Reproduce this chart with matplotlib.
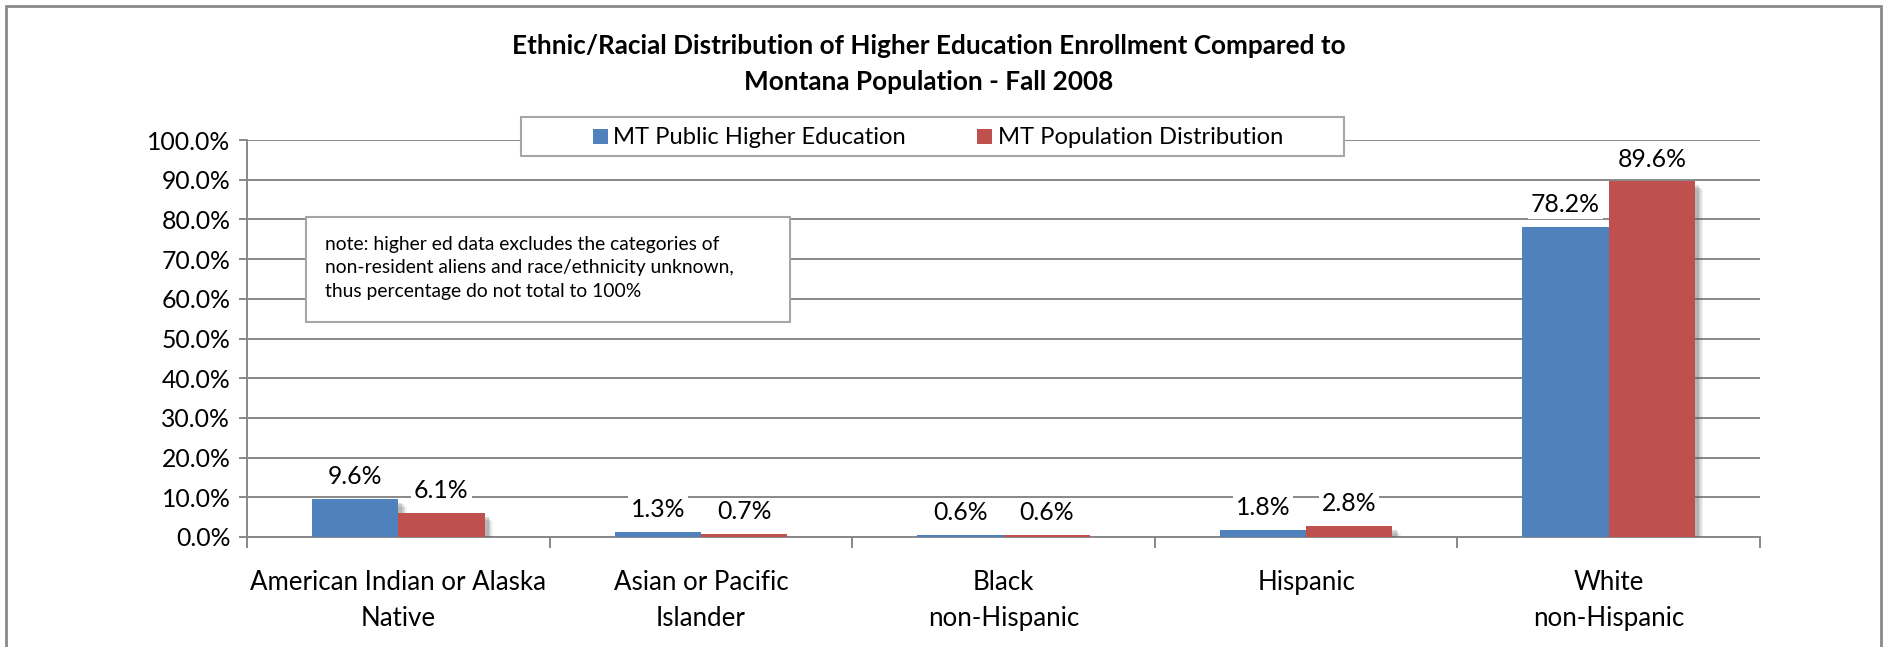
import matplotlib
matplotlib.use("Agg")
import matplotlib.pyplot as plt
import matplotlib.patheffects as pe
from matplotlib.patches import Rectangle, Patch
import numpy as np

categories = ["American Indian or Alaska\nNative", "Asian or Pacific\nIslander",
              "Black\nnon-Hispanic", "Hispanic", "White\nnon-Hispanic"]
higher_ed = [9.6, 1.3, 0.6, 1.8, 78.2]
population = [6.1, 0.7, 0.6, 2.8, 89.6]
series_names = ["MT Public Higher Education", "MT Population Distribution"]
yticks = [0, 10, 20, 30, 40, 50, 60, 70, 80, 90, 100]
title_lines = ["Ethnic/Racial Distribution of Higher Education Enrollment Compared to",
               "Montana Population - Fall 2008"]
note = ("note: higher ed data excludes the categories of\n"
        "non-resident aliens and race/ethnicity unknown,\n"
        "thus percentage do not total to 100%")

BLUE = "#4F81BD"
RED = "#C0504D"
GRID = "#888888"
FONT = ["Lato", "DejaVu Sans"]
plt.rcParams["font.family"] = FONT

W, H = 1887, 647
fig = plt.figure(figsize=(W / 100, H / 100), dpi=100)

def fx(px):
    return px / W

def fy(py):
    return 1 - py / H

# outer border
fig.patches.append(Rectangle((fx(6), fy(660)), fx(1881) - fx(6), fy(6) - fy(660),
                             transform=fig.transFigure, fill=False,
                             edgecolor="#8a8a8a", lw=2))

ax = fig.add_axes([fx(247), fy(537), fx(1760) - fx(247), fy(140) - fy(537)])
x = np.arange(len(categories))
bw = 0.285
shadow = [pe.SimplePatchShadow(offset=(o, -o), shadow_rgbFace="#606060", alpha=a)
          for o, a in ((6, 0.08), (5, 0.12), (4, 0.16), (3, 0.2))] + [pe.Normal()]
b1 = ax.bar(x - bw / 2, higher_ed, bw, color=BLUE, zorder=3, path_effects=shadow)
b2 = ax.bar(x + bw / 2, population, bw, color=RED, zorder=3, path_effects=shadow)

for bars, vals in ((b1, higher_ed), (b2, population)):
    for rect, v in zip(bars, vals):
        ax.annotate(f"{v:.1f}%", (rect.get_x() + rect.get_width() / 2, v),
                    xytext=(0, 16), textcoords="offset points", ha="center", va="center",
                    fontsize=17.8, zorder=5,
                    bbox=dict(boxstyle="square,pad=0.12", fc="white", ec="none"))

ax.set_xlim(-0.5, len(categories) - 0.5)
ax.set_ylim(0, 100)
ax.set_yticks(yticks)
ax.set_yticklabels([f"{t:.1f}%" for t in yticks], fontsize=17.8)
ax.yaxis.grid(True, color=GRID, lw=1.4, zorder=0)
ax.set_axisbelow(True)
ax.set_xticks(x)
ax.set_xticklabels(categories, fontsize=18.6, linespacing=1.53)
ax.set_xticks(np.arange(len(categories) + 1) - 0.5, minor=True)
ax.tick_params(axis="x", which="major", length=0, pad=24)
ax.tick_params(axis="x", which="minor", length=8, color=GRID, width=1.4, direction="out")
ax.tick_params(axis="y", length=6, color=GRID, width=1.4, pad=6)
for s in ("top", "right"):
    ax.spines[s].set_visible(False)
for s in ("left", "bottom"):
    ax.spines[s].set_color(GRID)
    ax.spines[s].set_linewidth(1.4)

# title
fig.text(fx(929), fy(46), title_lines[0], ha="center", va="center", fontsize=18.8, fontweight="bold")
fig.text(fx(929), fy(82), title_lines[1], ha="center", va="center", fontsize=18.8, fontweight="bold")

# legend
fig.patches.append(Rectangle((fx(521), fy(156)), fx(1344) - fx(521), fy(117) - fy(156),
                             transform=fig.transFigure, facecolor="white",
                             edgecolor="#a6a6a6", lw=1.5, zorder=4))
handles = [Patch(facecolor=BLUE, edgecolor="none"), Patch(facecolor=RED, edgecolor="none")]
leg = fig.legend(handles=handles, labels=series_names, loc="center",
                 bbox_to_anchor=(fx(938), fy(138)), ncol=2, frameon=False, fontsize=17.1,
                 handlelength=0.63, handleheight=0.6, handletextpad=0.22, columnspacing=3.0)
leg.set_zorder(5)

# note box
fig.patches.append(Rectangle((fx(306), fy(322)), fx(790) - fx(306), fy(217) - fy(322),
                             transform=fig.transFigure, facecolor="white",
                             edgecolor="#a6a6a6", lw=1.5, zorder=4))
fig.text(fx(325), fy(268), note, ha="left", va="center", fontsize=13.9, linespacing=1.43, zorder=5)

fig.savefig("out.png", dpi=100)
